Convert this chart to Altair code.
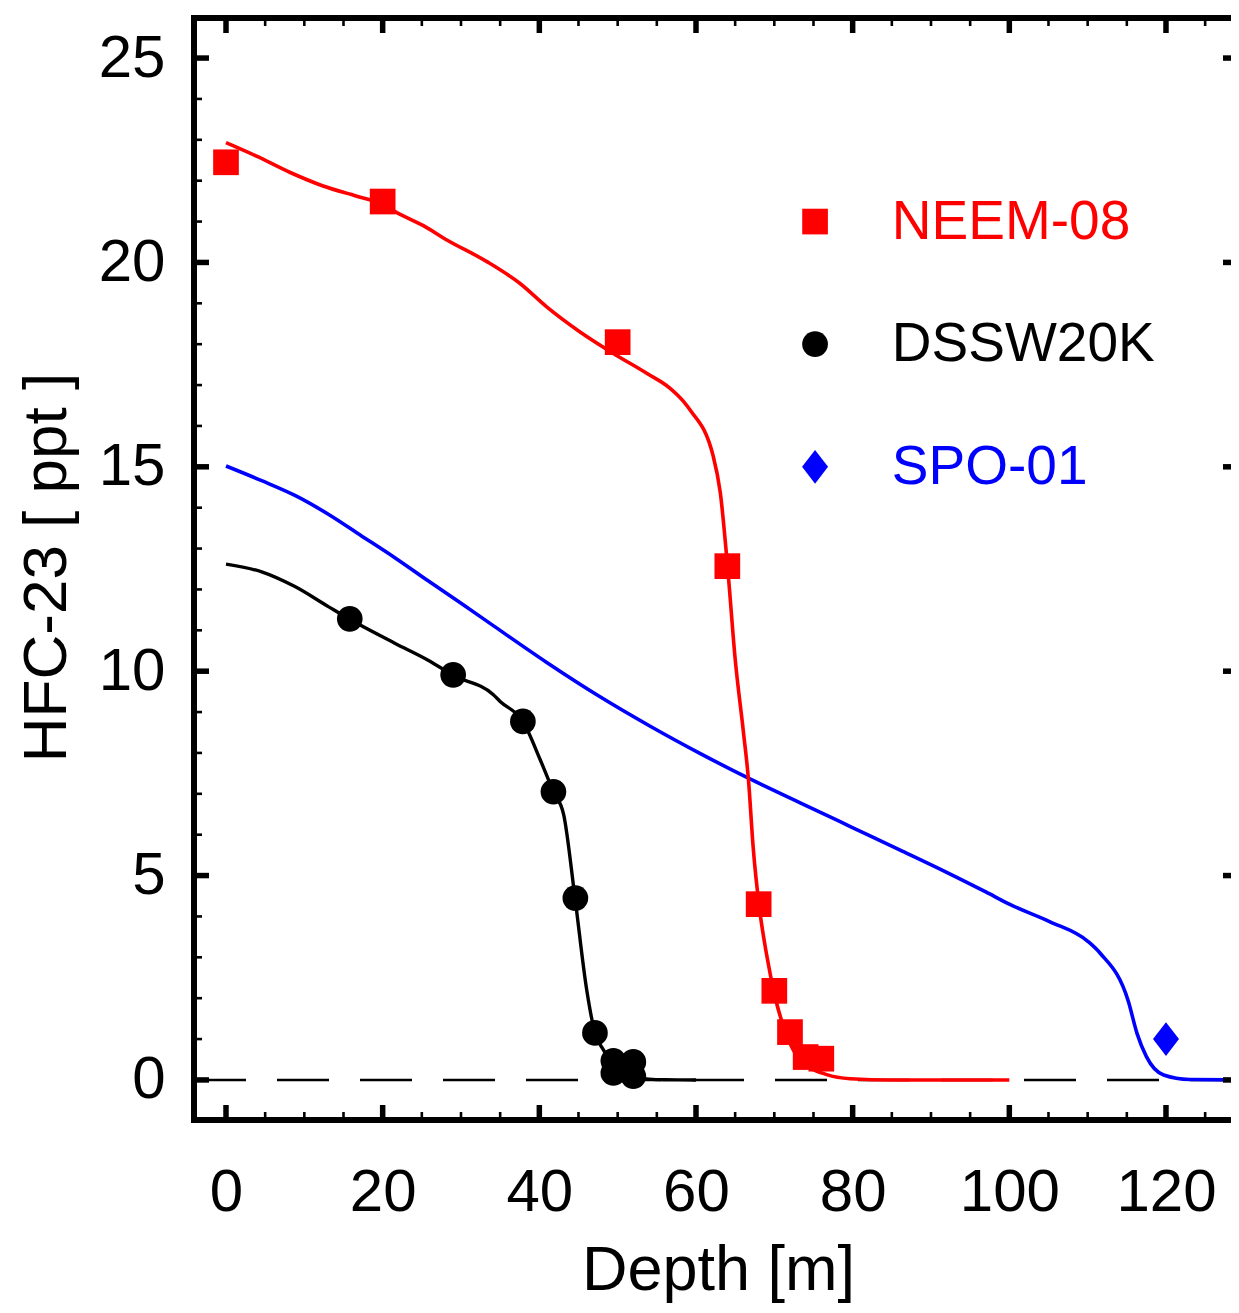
import altair as alt
import pandas as pd

FONT = "Liberation Sans"
W, H = 1037, 1102
X_DOMAIN = [-4.085, 128.30]
Y_DOMAIN = [-0.98, 25.98]

series_names = ["NEEM-08", "DSSW20K", "SPO-01"]
series_colors = ["#ff0000", "#000000", "#0000ff"]

# measured points
neem_x = [0, 20, 50, 64, 68, 70, 72, 74, 76]
neem_y = [22.45, 21.49, 18.05, 12.57, 4.3, 2.18, 1.17, 0.56, 0.52]
dssw_x = [15.8, 29.0, 37.9, 41.8, 44.6, 47.1, 49.45, 49.45, 52.0, 52.0]
dssw_y = [11.28, 9.91, 8.77, 7.05, 4.45, 1.15, 0.47, 0.17, 0.44, 0.09]
spo_x = [120]
spo_y = [1.0]

# model curves
neem_cx = [0, 3.9, 8.2, 12.4, 16.7, 20, 21.8, 25.2, 28.2, 33.3, 37.5, 40.9, 45.2, 49.4,
           53.7, 56.7, 58.4, 59.2, 62.2, 63.1, 64.1, 65.0, 66.05, 66.7, 67.3, 68.1, 69.0,
           70.1, 71.6, 73.3, 76.7, 79.7, 85, 100]
neem_cy = [22.93, 22.6, 22.2, 21.87, 21.62, 21.42, 21.22, 20.9, 20.55, 20.02, 19.49, 18.92,
           18.3, 17.78, 17.29, 16.92, 16.6, 16.4, 15.26, 14.37, 12.4, 10.3, 8.52, 7.34, 5.69,
           4.2, 3.08, 2.03, 1.08, 0.49, 0.13, 0.03, 0.0, 0.0]
dssw_cx = [0, 4.56, 8.8, 13.06, 15.8, 21.6, 25.8, 29.0, 34.1, 35.0, 37.9, 40.1, 41.8, 43.1,
           44.56, 46.05, 47.1, 48.2, 49.5, 51.0, 52.0, 54.0, 56.0, 60.0]
dssw_cy = [12.62, 12.43, 12.07, 11.58, 11.27, 10.68, 10.27, 9.9, 9.43, 9.26, 8.77, 7.84, 7.05,
           6.5, 4.44, 2.2, 1.15, 0.73, 0.35, 0.15, 0.08, 0.02, 0.005, 0.0]
spo_cx = [0, 4.56, 8.8, 13.06, 17.3, 21.6, 25.8, 30.1, 34.3, 40.9, 47.7, 54.1, 60.5, 66.5,
          73.3, 79.7, 86.0, 92.0, 97.0, 100.0, 105.2, 110.1, 111.6, 115.2, 116.3, 117.5,
          119.7, 123.0, 130.0]
spo_cy = [15.02, 14.66, 14.3, 13.84, 13.31, 12.77, 12.21, 11.65, 11.09, 10.22, 9.38, 8.66,
          7.99, 7.4, 6.78, 6.2, 5.63, 5.08, 4.6, 4.3, 3.87, 3.38, 3.1, 1.92, 1.14, 0.57,
          0.12, 0.01, 0.0]

# axis ticks
x_major = [0, 20, 40, 60, 80, 100, 120]
x_minor = [v for v in range(5, 130, 5) if v % 20 != 0]
y_major = [0, 5, 10, 15, 20, 25]
y_minor = [v for v in range(1, 26) if v % 5 != 0]

# legend
legend_x_symbol = 75.2
legend_x_text = 85.0
legend_y = [21.0, 18.0, 15.0]

DIAMOND = "M0,-1.3L1,0L0,1.3L-1,0Z"
shapes = ["square", "circle", DIAMOND]
sizes = [660, 660, 676]

xs = alt.Scale(domain=X_DOMAIN, nice=False, zero=False)
ys = alt.Scale(domain=Y_DOMAIN, nice=False, zero=False)

x_axis = alt.Axis(values=x_major, format="d", labelFont=FONT, labelFontSize=60,
                  labelColor="black", labelPadding=43, labelFlush=False, labelOverlap=False,
                  ticks=False, domain=False, grid=False,
                  title="Depth [m]", titleFont=FONT, titleFontSize=63,
                  titleFontWeight="normal", titleColor="black", titleX=524, titleY=169,
                  titleBaseline="alphabetic", titleAlign="center")
y_axis = alt.Axis(values=y_major, format="d", labelFont=FONT, labelFontSize=60,
                  labelColor="black", labelPadding=29, labelFlush=False, labelOverlap=False,
                  ticks=False, domain=False, grid=False,
                  title="HFC-23 [ ppt ]", titleFont=FONT, titleFontSize=62,
                  titleFontWeight="normal", titleColor="black", titleX=-129, titleY=549,
                  titleBaseline="alphabetic", titleAlign="center")


def X(field):
    return alt.X(field, scale=xs, axis=x_axis)


def Y(field):
    return alt.Y(field, scale=ys, axis=y_axis)


layers = []

# zero dashed line
zero_df = pd.DataFrame({"y": [0.0]})
layers.append(
    alt.Chart(zero_df).mark_rule(color="black", strokeWidth=2.6, strokeDash=[52, 31]).encode(
        y=Y("y:Q"), x=alt.value(0), x2=alt.value(W))
)

curves = {
    "SPO-01": (spo_cx, spo_cy, "#0000ff", 3.6),
    "DSSW20K": (dssw_cx, dssw_cy, "#000000", 3.4),
    "NEEM-08": (neem_cx, neem_cy, "#ff0000", 3.6),
}
for name, (cx, cy, col, sw) in curves.items():
    df = pd.DataFrame({"x": cx, "y": cy})
    layers.append(
        alt.Chart(df).mark_line(color=col, strokeWidth=sw, interpolate="monotone", clip=True).encode(
            x=X("x:Q"), y=Y("y:Q"))
    )

pts = {
    "NEEM-08": (neem_x, neem_y),
    "DSSW20K": (dssw_x, dssw_y),
    "SPO-01": (spo_x, spo_y),
}
for i, name in enumerate(series_names):
    px, py = pts[name]
    df = pd.DataFrame({"x": px, "y": py})
    layers.append(
        alt.Chart(df).mark_point(filled=True, opacity=1, shape=shapes[i], size=sizes[i],
                                 color=series_colors[i], strokeWidth=0).encode(
            x=X("x:Q"), y=Y("y:Q"))
    )

# legend
for i, name in enumerate(series_names):
    ldf = pd.DataFrame({"x": [legend_x_symbol], "y": [legend_y[i]]})
    layers.append(
        alt.Chart(ldf).mark_point(filled=True, opacity=1, shape=shapes[i], size=sizes[i],
                                  color=series_colors[i], strokeWidth=0).encode(
            x=X("x:Q"), y=Y("y:Q"))
    )
    tdf = pd.DataFrame({"x": [legend_x_text], "y": [legend_y[i]], "label": [name]})
    layers.append(
        alt.Chart(tdf).mark_text(align="left", baseline="middle", font=FONT, fontSize=55,
                                 color=series_colors[i]).encode(
            x=X("x:Q"), y=Y("y:Q"), text="label:N")
    )

# ticks (inward)
xmaj = pd.DataFrame({"v": x_major})
xmin = pd.DataFrame({"v": x_minor})
ymaj = pd.DataFrame({"v": y_major})
ymin = pd.DataFrame({"v": y_minor})
MAJ, MIN = 15, 8
for df, L, sw in [(xmaj, MAJ, 5.5), (xmin, MIN, 2.6)]:
    layers.append(alt.Chart(df).mark_rule(color="black", strokeWidth=sw).encode(
        x=X("v:Q"), y=alt.value(H), y2=alt.value(H - L)))
    layers.append(alt.Chart(df).mark_rule(color="black", strokeWidth=sw).encode(
        x=X("v:Q"), y=alt.value(0), y2=alt.value(L)))
for df, L, sw in [(ymaj, MAJ, 5.5), (ymin, MIN, 2.6)]:
    layers.append(alt.Chart(df).mark_rule(color="black", strokeWidth=sw).encode(
        y=Y("v:Q"), x=alt.value(0), x2=alt.value(L)))
# right-hand ticks: only their inner stubs fall inside the canvas
layers.append(alt.Chart(ymaj).mark_rule(color="black", strokeWidth=5.5).encode(
    y=Y("v:Q"), x=alt.value(W), x2=alt.value(W - 8)))

# frame (left, top, bottom)
one = pd.DataFrame({"k": [0]})
layers.append(alt.Chart(one).mark_rule(color="black", strokeWidth=6, strokeCap="square").encode(
    x=alt.value(0), y=alt.value(0), y2=alt.value(H)))
layers.append(alt.Chart(one).mark_rule(color="black", strokeWidth=6, strokeCap="square").encode(
    y=alt.value(0), x=alt.value(0), x2=alt.value(W + 10)))
layers.append(alt.Chart(one).mark_rule(color="black", strokeWidth=6, strokeCap="square").encode(
    y=alt.value(H), x=alt.value(0), x2=alt.value(W + 10)))

chart = alt.layer(*layers).properties(
    width=W, height=H,
    padding={"left": 186, "top": 10, "right": 0, "bottom": 183},
    autosize=alt.AutoSizeParams(type="none"),
    background="white",
).configure_view(stroke=None)

chart.save("out.html", embed_options={"renderer": "svg", "actions": False})
